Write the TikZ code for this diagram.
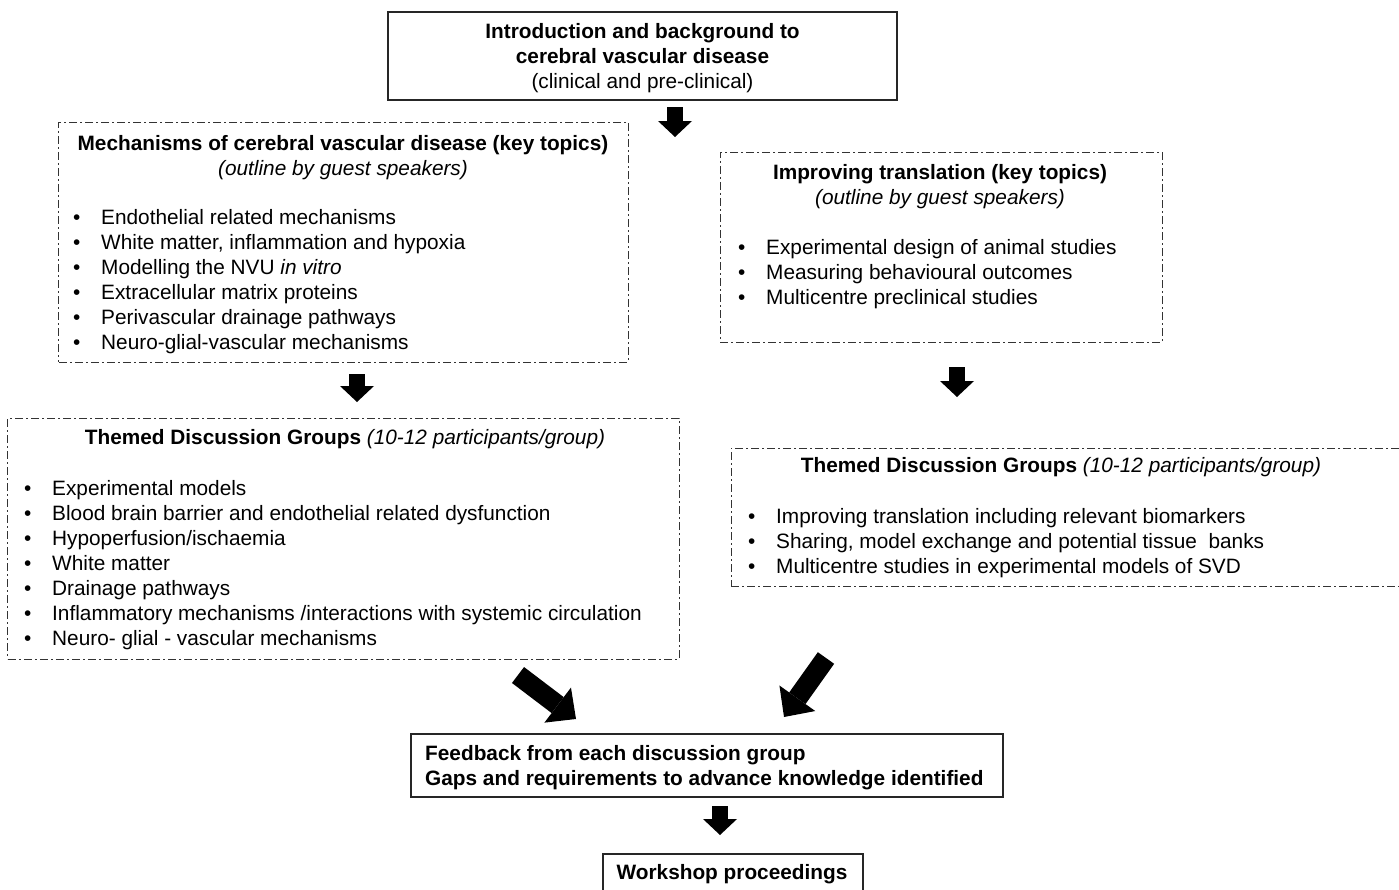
\documentclass[tikz,border=0pt]{standalone}
\usepackage{fontspec}
\setmainfont{Liberation Sans}
\usetikzlibrary{arrows.meta}
\newcommand{\itm}[1]{\makebox[28bp][l]{\textbullet}#1}

\begin{document}
\begin{tikzpicture}[x=1bp,y=-1bp,
  font=\fontsize{20.8bp}{25bp}\selectfont,
  solidbox/.style={draw=black!85,line width=1.4bp,inner sep=0pt},
  dotbox/.style={draw=black!80,line width=1bp,dash pattern=on 8bp off 3bp on 2bp off 3bp,inner sep=0pt},
  head/.style={inner sep=0pt,align=center},
  items/.style={inner sep=0pt,align=left,anchor=west},
  fat/.style={line width=16bp,-{Triangle[width=34bp,length=16bp,line width=0pt]}},
  wide/.style={line width=20bp,-{Triangle[width=44bp,length=23bp,line width=0pt]}}]
\useasboundingbox (0,0) rectangle (1399,889);

\node[solidbox,minimum width=509bp,minimum height=88bp] (intro) at (642.5,56) {};
\node[head] (introtext) at (642.5,58.5)
  {\textbf{Introduction and background to}\\\textbf{cerebral vascular disease}\\(clinical and pre-clinical)};

\node[dotbox,minimum width=569bp,minimum height=240bp] (mech) at (343.5,242) {};
\node[head] (mechtitle) at (343,157.5)
  {\textbf{Mechanisms of cerebral vascular disease (key topics)}\\\textit{(outline by guest speakers)}};
\node[items] (mechlist) at (73,282)
  {\itm{Endothelial related mechanisms}\\\itm{White matter, inflammation and hypoxia}\\
   \itm{Modelling the NVU \textit{in vitro}}\\\itm{Extracellular matrix proteins}\\
   \itm{Perivascular drainage pathways}\\\itm{Neuro-glial-vascular mechanisms}};

\node[dotbox,minimum width=442bp,minimum height=190bp] (transl) at (941,247) {};
\node[head] (transltitle) at (940,186.5)
  {\textbf{Improving translation (key topics)}\\\textit{(outline by guest speakers)}};
\node[items] (transllist) at (738,274)
  {\itm{Experimental design of animal studies}\\\itm{Measuring behavioural outcomes}\\
   \itm{Multicentre preclinical studies}};

\node[dotbox,minimum width=671bp,minimum height=241bp] (themeL) at (343.5,538.5) {};
\node[head] (themeLtitle) at (345,439)
  {\textbf{Themed Discussion Groups} \textit{(10-12 participants/group)}};
\node[items] (themeLlist) at (24,565)
  {\itm{Experimental models}\\\itm{Blood brain barrier and endothelial related dysfunction}\\
   \itm{Hypoperfusion/ischaemia}\\\itm{White matter}\\\itm{Drainage pathways}\\
   \itm{Inflammatory mechanisms /interactions with systemic circulation}\\
   \itm{Neuro- glial - vascular mechanisms}};

\node[dotbox,minimum width=689bp,minimum height=138bp] (themeR) at (1075.5,517) {};
\node[head] (themeRtitle) at (1061,467)
  {\textbf{Themed Discussion Groups} \textit{(10-12 participants/group)}};
\node[items] (themeRlist) at (748,543)
  {\itm{Improving translation including relevant biomarkers}\\
   \itm{Sharing, model exchange and potential tissue\ \ banks}\\
   \itm{Multicentre studies in experimental models of SVD}};

\node[solidbox,minimum width=592bp,minimum height=63bp] (feedback) at (707,765.5) {};
\node[items] (feedbacktext) at (425,767.5)
  {\textbf{Feedback from each discussion group}\\\textbf{Gaps and requirements to advance knowledge identified}};

\node[solidbox,minimum width=260bp,minimum height=40bp] (proceed) at (733,874) {};
\node[head] (proceedtext) at (732,874) {\textbf{Workshop proceedings}};

\coordinate (a1) at (675,107);  \coordinate (a1e) at (675,137);
\coordinate (a2) at (357,374);  \coordinate (a2e) at (357,402);
\coordinate (a3) at (957,367);  \coordinate (a3e) at (957,397);
\coordinate (a4) at (720,806);  \coordinate (a4e) at (720,835);
\coordinate (dl) at (518,675);  \coordinate (dle) at (576,719);
\coordinate (dr) at (826,658);  \coordinate (dre) at (784,717);

\draw[fat] (a1) -- (a1e);
\draw[fat] (a2) -- (a2e);
\draw[fat] (a3) -- (a3e);
\draw[fat] (a4) -- (a4e);
\draw[wide] (dl) -- (dle);
\draw[wide] (dr) -- (dre);
\end{tikzpicture}
\end{document}
